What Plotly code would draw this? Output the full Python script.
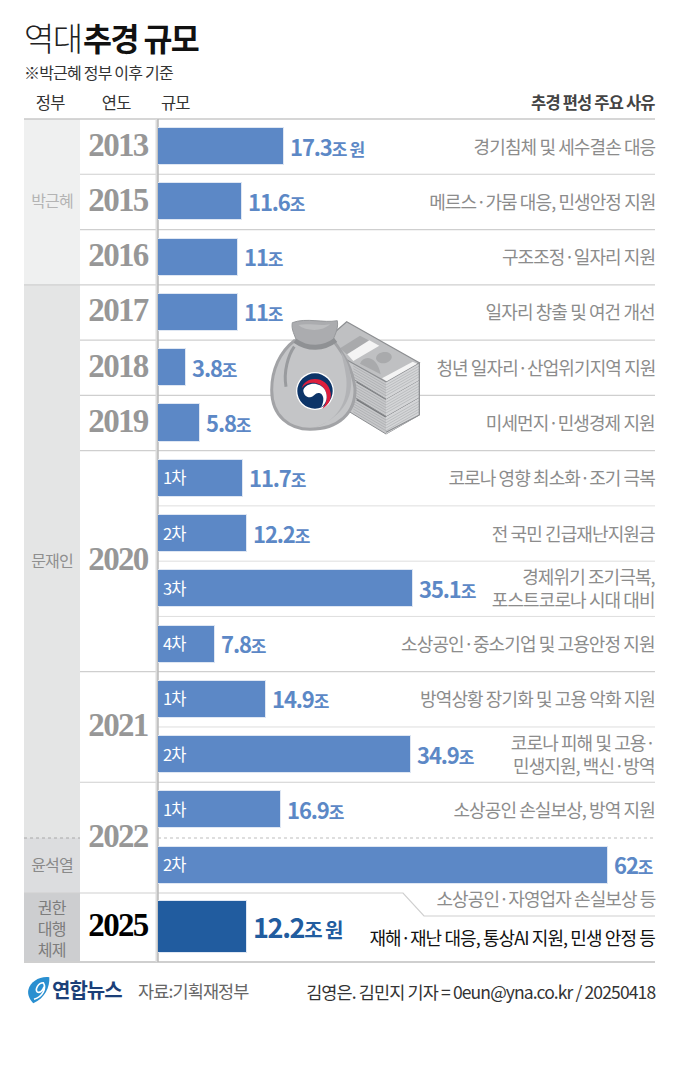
import plotly.graph_objects as go

# values (trillion won)
presidents = ["박근혜", "문재인", "윤석열", "권한<br>대행<br>체제"]
years = ["2013", "2015", "2016", "2017", "2018", "2019", "2020", "2021", "2022", "2025"]
rounds = ["", "", "", "", "", "", "1차", "2차", "3차", "4차", "1차", "2차", "1차", "2차", ""]
values = [17.3, 11.6, 11, 11, 3.8, 5.8, 11.7, 12.2, 35.1, 7.8, 14.9, 34.9, 16.9, 62, 12.2]
value_units = ["조 원", "조", "조", "조", "조", "조", "조", "조", "조", "조", "조", "조", "조", "조", "조 원"]
reasons = [
    "경기침체 및 세수결손 대응",
    "메르스·가뭄 대응, 민생안정 지원",
    "구조조정·일자리 지원",
    "일자리 창출 및 여건 개선",
    "청년 일자리·산업위기지역 지원",
    "미세먼지·민생경제 지원",
    "코로나 영향 최소화·조기 극복",
    "전 국민 긴급재난지원금",
    "경제위기 조기극복,<br>포스트코로나 시대 대비",
    "소상공인·중소기업 및 고용안정 지원",
    "방역상황 장기화 및 고용 악화 지원",
    "코로나 피해 및 고용·<br>민생지원, 백신·방역",
    "소상공인 손실보상, 방역 지원",
    "소상공인·자영업자 손실보상 등",
    "재해·재난 대응, 통상AI 지원, 민생 안정 등",
]

KR = "Noto Sans CJK KR"
SERIF = "Liberation Serif"
BLUE = "#5c88c6"
DARK = "#215c9f"
GRAY = "#8c8c8c"

W, H = 680, 1074
ROW = 55.27
TOP, BOTTOM = 119, 962
X0 = 158
PX_PER_UNIT = 7.26

row_y = [i + 0.5 for i in range(14)] + [14 + 69 / ROW / 2]
bar_w = [0.67] * 14 + [0.94]


def row_px(r):
    return TOP + r * ROW


fig = go.Figure()
# hidden pixel axes (x, y) for the furniture, drawn under the bars
fig.add_trace(go.Scatter(x=[0], y=[0], mode="markers",
                         marker=dict(opacity=0), hoverinfo="skip", showlegend=False))
fig.add_trace(go.Bar(
    x=values, y=row_y, width=bar_w, orientation="h", xaxis="x2", yaxis="y2",
    marker=dict(color=[BLUE] * 14 + [DARK], line=dict(color="#dfe7f3", width=1)),
    hoverinfo="skip", showlegend=False,
))

shapes = []
notes = []


def rect(x0, y0, x1, y1, fill, layer="below"):
    shapes.append(dict(type="rect", xref="x", yref="y", x0=x0, y0=y0, x1=x1, y1=y1,
                       fillcolor=fill, line_width=0, layer=layer))


def hline(x0, x1, y, color="#cfcfcf", width=1.2, dash="solid"):
    shapes.append(dict(type="line", xref="x", yref="y", x0=x0, x1=x1, y0=y, y1=y,
                       line=dict(color=color, width=width, dash=dash), layer="below"))


def path(d, fill="rgba(0,0,0,0)", color="rgba(0,0,0,0)", width=0):
    shapes.append(dict(type="path", xref="x", yref="y", path=d, fillcolor=fill,
                       line=dict(color=color, width=width), layer="above"))


def text(x, y, s, size, color="#333333", anchor="left", family=KR, valign="middle"):
    notes.append(dict(xref="x", yref="y", x=x, y=y, text=s, showarrow=False, xanchor=anchor,
                      yanchor=valign, align=anchor, font=dict(family=family, size=size, color=color),
                      borderpad=0, borderwidth=0))


# government column
rect(24, TOP, 80, row_px(3), "#eff0f0")
rect(24, row_px(3), 80, 838, "#e4e5e5")
rect(24, 838, 80, 893, "#dcdddf")
rect(24, 893, 80, BOTTOM, "#cdced0")

# rules
hline(24, 655, TOP, "#c9c9c9", 1.5)
for r in [1, 2, 4, 5]:
    hline(80, 655, row_px(r))
hline(24, 655, row_px(3))
hline(80, 655, row_px(6))
for r in [7, 8, 9, 11]:
    hline(158, 655, row_px(r), "#dedede", 1)
hline(80, 655, row_px(10))
hline(80, 655, row_px(12))
hline(24, 80, 838, "#a9a9a9", 1, "dot")
hline(158, 655, 838, "#bdbdbd", 1, "dot")
shapes.append(dict(type="path", xref="x", yref="y", path="M24,893 L403,893 L424,916 L655,916",
                   line=dict(color="#cfcfcf", width=1.2), layer="below"))
hline(24, 655, BOTTOM, "#cfcfcf", 2)
# spine with soft shadow, sits under the bars
shapes.append(dict(type="line", xref="x", yref="y", x0=X0 - 1, x1=X0 - 1, y0=TOP, y1=BOTTOM,
                   line=dict(color="#dcdcdc", width=3), layer="below"))
shapes.append(dict(type="line", xref="x", yref="y", x0=X0, x1=X0, y0=TOP, y1=BOTTOM,
                   line=dict(color="#a8a8a8", width=1), layer="below"))

# headings
text(24, 37, "역대", 33, "#222222")
notes[-1]["font"]["weight"] = 300
text(83, 37, "<b>추경 규모</b>", 31.5, "#111111")
text(24, 72, "※박근혜 정부 이후 기준", 16, "#333333")
text(50, 102, "정부", 16.5, "#333333", "center")
text(116, 102, "연도", 16.5, "#333333", "center")
text(161, 102, "규모", 16.5, "#333333")
text(655, 102, "<b>추경 편성 주요 사유</b>", 16.5, "#444444", "right")

# government names
text(52, row_px(1.5) - 2, presidents[0], 16, "#b4b4b4", "center")
text(52, row_px(8) - 1, presidents[1], 16, "#8f8f8f", "center")
text(52, 864, presidents[2], 16, "#8a8a8a", "center")
text(52, 927.5, presidents[3], 16, "#7c7c7c", "center")

# years
year_rows = [0.5, 1.5, 2.5, 3.5, 4.5, 5.5, 8, 11, 13]
for yr, r in zip(years[:-1], year_rows):
    text(118, row_px(r) - 2, "<b>%s</b>" % yr, 33, "#979797", "center", SERIF)
text(118, row_y[-1] * ROW + TOP - 2, "<b>%s</b>" % years[-1], 33, "#000000", "center", SERIF)

# bar labels
for i, v in enumerate(values):
    yp = row_px(row_y[i])
    x_end = X0 + v * PX_PER_UNIT
    if rounds[i]:
        text(X0 + 5, yp - 1, rounds[i], 16.5, "#ffffff")
    if i == 14:
        s = "<b>%g</b><span style='font-size:20px'><b>%s</b></span>" % (v, value_units[i])
        text(x_end + 6.5, yp - 1, s, 27, DARK)
    else:
        s = "<b>%g</b><span style='font-size:17px'><b>%s</b></span>" % (v, value_units[i])
        text(x_end + 6, yp - 1, s, 22, BLUE)

# reasons
for i, s in enumerate(reasons):
    yp = row_px(row_y[i]) - 1
    if i == 13:
        yp = 898
    if i == 14:
        yp = 937
    text(655, yp, s, 18, "#111111" if i == 14 else GRAY, "right")

# footer
text(138, 990, "자료:기획재정부", 17.5, "#666666")
text(655, 991, "김영은. 김민지 기자 = 0eun@yna.co.kr / 20250418", 17.5, "#333333", "right")
text(52, 989, "<b>연합뉴스</b>", 20, "#1b3f78")


# icon helpers: each one maps points measured on a crop of the picture
def crop(x0, y0):
    def f(x, y):
        return "%.1f,%.1f" % (x0 + x / 3, y0 + y / 3)
    return f


def poly(f, pts):
    return "M" + " L".join(f(*p) for p in pts) + " Z"


def curve(f, start, *segments):
    d = "M" + f(*start)
    for a, b, c in segments:
        d += " C%s %s %s" % (f(*a), f(*b), f(*c))
    return d


# logo
l = crop(20, 970)
path(curve(l, (25, 60), ((30, 35), (60, 18), (88, 22)), ((90, 50), (75, 85), (40, 100)),
           ((30, 90), (22, 75), (25, 60))) + " Z", fill="#2a8fd0")
path(curve(l, (42, 88), ((68, 80), (80, 55), (70, 38)), ((55, 38), (44, 58), (52, 66)),
           ((60, 70), (68, 62), (72, 50))), color="#ffffff", width=1.6)

# note stack, bottom block first
c = crop(340, 315)
edge = "#8c8e91"
for dy in [105, 52, 0]:
    path(poly(c, [(-30, 75 + dy), (138, 200 + dy), (238, 143 + dy), (238, 195 + dy),
                  (138, 252 + dy), (-30, 150 + dy)]), fill="#c6c7c9", color=edge, width=1)
    path(poly(c, [(138, 200 + dy), (238, 143 + dy), (238, 195 + dy), (138, 252 + dy)]), fill="#d4d5d7")
    for k in [10, 18, 26, 34, 42]:
        path("M%s L%s" % (c(138, 200 + dy + k), c(238, 143 + dy + k)), color="#aaacae", width=0.6)
        path("M%s L%s" % (c(40, 143 + dy + k), c(138, 200 + dy + k)), color="#a3a5a7", width=0.6)
    if dy:
        path("M%s L%s" % (c(50, 148 + dy), c(138, 200 + dy)), color="#77797c", width=2)
path("M%s L%s L%s" % (c(238, 143), c(238, 300), c(138, 352)), color=edge, width=1.2)
path(poly(c, [(20, 20), (238, 143), (138, 200), (-60, 90)]), fill="#bfc0c2", color=edge, width=1.2)
path(poly(c, [(60, 62), (90, 78), (20, 118), (0, 100)]), fill="#a9aaac")
path(poly(c, [(88, 76), (118, 92), (40, 138), (22, 118)]), fill="#f4f4f4")
path(poly(c, [(218, 140), (232, 146), (140, 199), (126, 190)]), fill="#f4f4f4")
path(curve(c, (60, 146), ((70, 120), (110, 120), (122, 178))) + " Z", fill="#a9aaac")
path(curve(c, (108, 130), ((110, 105), (158, 105), (155, 128)), ((150, 148), (112, 152), (108, 130))) + " Z",
     fill="#a9aaac")

# bag
b = crop(265, 310)
path(curve(b, (88, 92), ((45, 125), (20, 180), (20, 240)), ((20, 320), (75, 358), (135, 358)),
           ((220, 358), (272, 310), (270, 235)), ((262, 170), (230, 125), (205, 92))) + " Z",
     fill="#c4c5c7", color="#a2a3a6", width=3)
path(curve(b, (228, 125), ((275, 190), (285, 310), (135, 358)), ((220, 335), (250, 275), (244, 205)),
           ((240, 170), (232, 145), (228, 125))) + " Z", fill="#b2b3b6")
path(curve(b, (88, 110), ((70, 135), (55, 185), (63, 230))), color="#999b9e", width=3)
path(curve(b, (82, 38), ((125, 22), (175, 40), (217, 32)), ((222, 60), (205, 80), (203, 95)),
           ((165, 112), (120, 110), (95, 95)), ((90, 75), (78, 60), (82, 38))) + " Z",
     fill="#abacaf", color="#97999c", width=1)
path(curve(b, (100, 45), ((130, 38), (170, 50), (195, 42)), ((175, 65), (125, 65), (100, 45))) + " Z",
     fill="#bcbdbf")
path(curve(b, (90, 92), ((130, 120), (175, 118), (212, 90))), color="#8f9194", width=5)

# taegeuk
t = crop(285, 360)
cx, cy = 315, 391


def circle(r, fill):
    shapes.append(dict(type="circle", xref="x", yref="y", x0=cx - r, x1=cx + r, y0=cy - r, y1=cy + r,
                       fillcolor=fill, line_width=0, layer="above"))


circle(19, "#ffffff")
circle(17.7, "#0c3468")
path(curve(t, (50, 85), ((60, 45), (130, 45), (137, 100)), ((140, 120), (128, 138), (112, 146)),
           ((125, 130), (130, 110), (120, 90)), ((105, 65), (70, 60), (50, 85))) + " Z", fill="#dd1f3d")
path(curve(t, (55, 90), ((65, 65), (105, 65), (120, 90)), ((130, 110), (125, 130), (108, 143)),
           ((118, 125), (118, 105), (105, 100)), ((92, 95), (88, 110), (75, 112)),
           ((62, 112), (55, 102), (55, 90))) + " Z", fill="#ffffff")

fig.update_layout(
    width=W, height=H, margin=dict(l=0, r=0, t=0, b=0),
    paper_bgcolor="#ffffff", plot_bgcolor="rgba(0,0,0,0)",
    bargap=0, barmode="overlay",
    xaxis=dict(domain=[0, 1], range=[0, W], visible=False, fixedrange=True),
    yaxis=dict(domain=[0, 1], range=[H, 0], visible=False, fixedrange=True),
    xaxis2=dict(domain=[X0 / W, 1], range=[0, (W - X0) / PX_PER_UNIT], visible=False, anchor="y2", fixedrange=True),
    yaxis2=dict(domain=[1 - BOTTOM / H, 1 - TOP / H], range=[(BOTTOM - TOP) / ROW, 0], visible=False, anchor="x2", fixedrange=True),
    shapes=shapes, annotations=notes,
    font=dict(family=KR),
)

# page margin off, tighter tracking like the reference, then redraw so anchors use the new widths
post = """
document.body.style.margin = '0';
var st = document.createElement('style');
st.textContent = '.annotation-text, .annotation-text tspan {letter-spacing: -0.05em;}';
document.head.appendChild(st);
Plotly.relayout('{plot_id}', {});
"""
fig.write_html("out.html", config=dict(displayModeBar=False), post_script=post)
